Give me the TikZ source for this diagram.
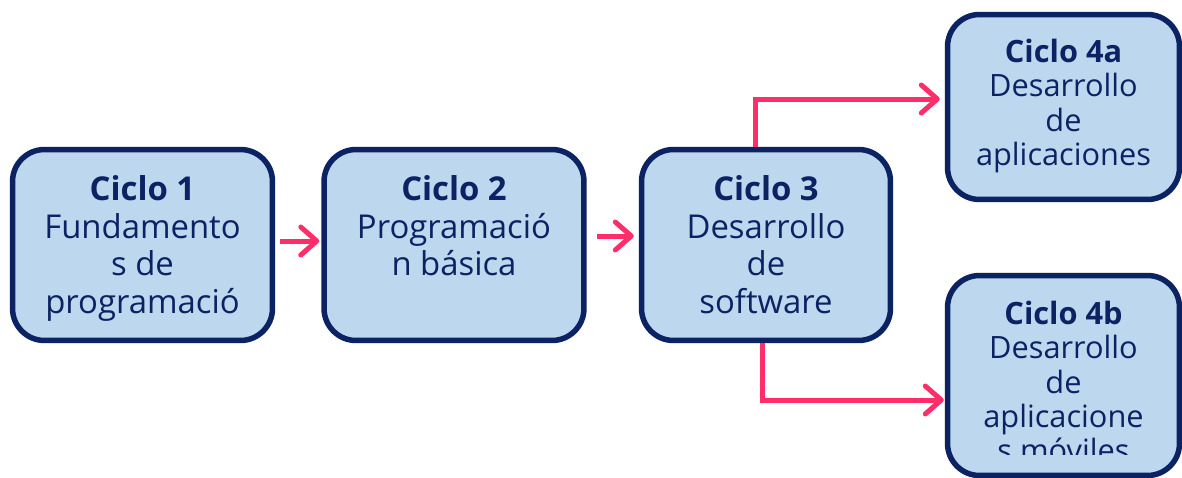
\documentclass[tikz,border=0pt]{standalone}
\usepackage{fontspec}
\setmainfont{Open Sans}
\usetikzlibrary{arrows.meta,positioning}
\definecolor{navy}{HTML}{0B2263}
\definecolor{boxfill}{HTML}{BDD7EE}
\definecolor{rosa}{HTML}{FF2E6A}
\begin{document}
\begin{tikzpicture}[x=0.02cm,y=-0.02cm,
    ciclo/.style={draw=navy, fill=boxfill, line width=0.11cm, rounded corners=0.64cm, inner sep=0pt},
    texto/.style={align=center, text=navy, inner sep=0pt, font=\fontsize{18.7}{21.6}\selectfont},
    textob/.style={align=center, text=navy, inner sep=0pt, font=\fontsize{17.5}{19.5}\selectfont},
    flecha/.style={draw=rosa, line width=0.1cm, -{Straight Barb[length=0.32cm,width=0.56cm,round]}}]
        \useasboundingbox (0,0) rectangle (1182,477);

        % cajas
        \node[ciclo, minimum width=5.2cm, minimum height=3.82cm] (c1) at (142.5, 245) {};
        \node[ciclo, minimum width=5.2cm, minimum height=3.82cm] (c2) at (454, 245) {};
        \node[ciclo, minimum width=4.98cm, minimum height=3.82cm] (c3) at (766, 245) {};
        \node[ciclo, minimum width=4.64cm, minimum height=3.7cm] (c4a) at (1063.5, 107) {};
        \node[ciclo, minimum width=4.64cm, minimum height=4.0cm] (c4b) at (1063.5, 375.5) {};

        % textos
        \node[texto, anchor=north, below=0.56cm of c1.north] (t1) {\textbf{Ciclo 1}\\Fundamento\\s de\\programació};
        \node[texto, anchor=north, below=0.56cm of c2.north] (t2) {\textbf{Ciclo 2}\\Programació\\n básica};
        \node[texto, anchor=north, below=0.56cm of c3.north] (t3) {\textbf{Ciclo 3}\\Desarrollo\\de\\software};
        \node[textob, anchor=north, below=0.54cm of c4a.north] (t4a) {\textbf{Ciclo 4a}\\Desarrollo\\de\\aplicaciones};
        \begin{scope}
            \clip (950,278) rectangle (1178,454);
            \node[textob, anchor=north, below=0.56cm of c4b.north] (t4b) {\textbf{Ciclo 4b}\\Desarrollo\\de\\aplicacione\\s móviles};
        \end{scope}

        % flechas
        \draw[flecha, shorten <=0.1cm, shorten >=0.04cm] ([yshift=0.08cm]c1.east) -- ([yshift=0.08cm]c2.west);
        \draw[flecha, shorten <=0.2cm, shorten >=0.1cm] ([yshift=0.18cm]c2.east) -- ([yshift=0.18cm]c3.west);
        \draw[flecha, shorten >=0.1cm] ([xshift=-0.22cm]c3.north) |- ([yshift=0.16cm]c4a.west);
        \draw[flecha, shorten >=0.02cm] ([xshift=-0.08cm]c3.south) |- ([yshift=-0.49cm]c4b.west);

    \end{tikzpicture}
\end{document}
